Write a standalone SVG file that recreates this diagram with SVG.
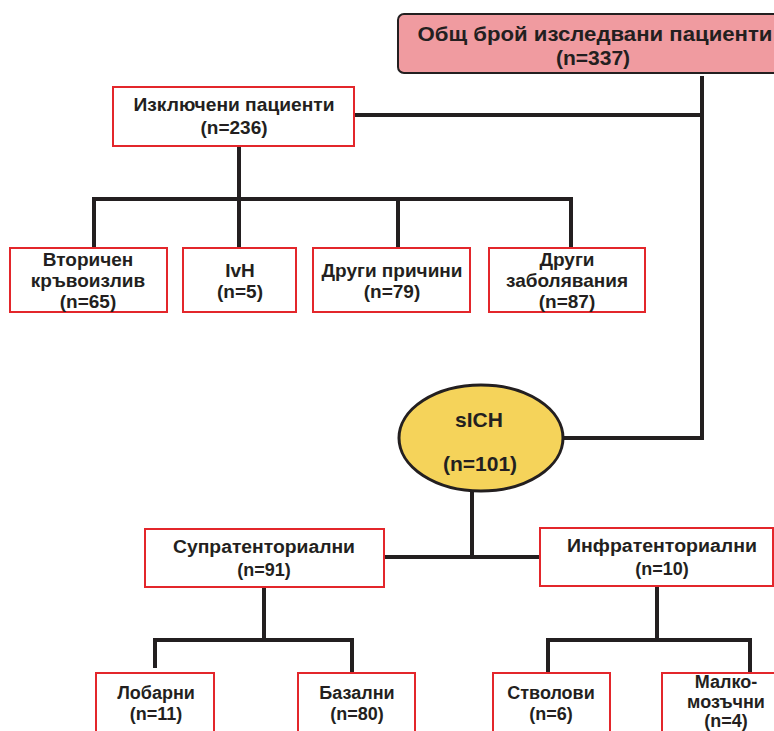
<svg xmlns="http://www.w3.org/2000/svg" width="774" height="731" viewBox="0 0 774 731">
<style>
.box{fill:#fff;stroke:#e3262b;stroke-width:2}
.t{font-family:"Liberation Sans",Arial,sans-serif;font-weight:bold;fill:#231f20;text-anchor:middle;font-size:19px}
.n{font-family:"Liberation Sans",Arial,sans-serif;font-weight:bold;fill:#231f20;text-anchor:middle;font-size:18px}
.ln{fill:none;stroke:#231f20;stroke-width:4}
</style>
<rect width="774" height="731" fill="#fff"/>
<g id="connectors">
<path class="ln" d="M702,76 V438 H562"/>
<path class="ln" d="M355,115 H702"/>
<path class="ln" d="M239,146 V248"/>
<path class="ln" d="M94,248 V199 H571 V248"/>
<path class="ln" d="M398,199 V248"/>
<path class="ln" d="M472,490 V557"/>
<path class="ln" d="M384,557 H540"/>
<path class="ln" d="M264,587 V640"/>
<path class="ln" d="M155,668 V640 H352 V674"/>
<path class="ln" d="M657,586 V640"/>
<path class="ln" d="M548,674 V640 H750 V674"/>
</g>
<g id="total">
<rect x="398" y="14" width="390" height="59" rx="6" fill="#f09ba0" stroke="#231f20" stroke-width="2"/>
<text class="t" x="595" y="41" style="font-size:21px" textLength="355" lengthAdjust="spacingAndGlyphs">Общ брой изследвани пациенти</text>
<text class="t" x="593" y="65" style="font-size:21px">(n=337)</text>
</g>
<g id="excluded">
<rect class="box" x="113" y="87" width="241" height="59"/>
<text class="t" x="234" y="111" textLength="201" lengthAdjust="spacingAndGlyphs">Изключени пациенти</text>
<text class="t" x="234" y="134">(n=236)</text>
</g>
<g id="secondary">
<rect class="box" x="10" y="248" width="157" height="64"/>
<text class="t" x="88" y="266">Вторичен</text>
<text class="t" x="88" y="287">кръвоизлив</text>
<text class="t" x="88" y="308">(n=65)</text>
</g>
<g id="ivh">
<rect class="box" x="183" y="248" width="113" height="64"/>
<text class="t" x="240" y="277">IvH</text>
<text class="t" x="240" y="298">(n=5)</text>
</g>
<g id="other-causes">
<rect class="box" x="313" y="248" width="157" height="64"/>
<text class="t" x="392" y="277">Други причини</text>
<text class="t" x="392" y="298">(n=79)</text>
</g>
<g id="other-diseases">
<rect class="box" x="489" y="248" width="156" height="64"/>
<text class="t" x="567" y="266">Други</text>
<text class="t" x="567" y="287">заболявания</text>
<text class="t" x="567" y="308">(n=87)</text>
</g>
<g id="sich">
<ellipse cx="481" cy="438" rx="82" ry="53" fill="#f5d35a" stroke="#231f20" stroke-width="3"/>
<text class="t" x="479" y="427" style="font-size:21px">sICH</text>
<text class="t" x="480" y="471" style="font-size:21px">(n=101)</text>
</g>
<g id="supra">
<rect class="box" x="145" y="529" width="239" height="58"/>
<text class="n" x="264" y="553" textLength="182" lengthAdjust="spacingAndGlyphs">Супратенториални</text>
<text class="n" x="264" y="576">(n=91)</text>
</g>
<g id="infra">
<rect class="box" x="540" y="528" width="233" height="58"/>
<text class="n" x="662" y="552" textLength="190" lengthAdjust="spacingAndGlyphs">Инфратенториални</text>
<text class="n" x="662" y="575">(n=10)</text>
</g>
<g id="lobar">
<rect class="box" x="96" y="673" width="118" height="64"/>
<text class="n" x="156" y="699">Лобарни</text>
<text class="n" x="156" y="720">(n=11)</text>
</g>
<g id="basal">
<rect class="box" x="298" y="673" width="117" height="64"/>
<text class="n" x="357" y="699">Базални</text>
<text class="n" x="357" y="720">(n=80)</text>
</g>
<g id="brainstem">
<rect class="box" x="493" y="673" width="117" height="64"/>
<text class="n" x="551" y="699">Стволови</text>
<text class="n" x="551" y="720">(n=6)</text>
</g>
<g id="cerebellar">
<rect class="box" x="662" y="673" width="120" height="64"/>
<text class="n" x="726" y="688">Малко-</text>
<text class="n" x="726" y="708">мозъчни</text>
<text class="n" x="726" y="727">(n=4)</text>
</g>
</svg>
